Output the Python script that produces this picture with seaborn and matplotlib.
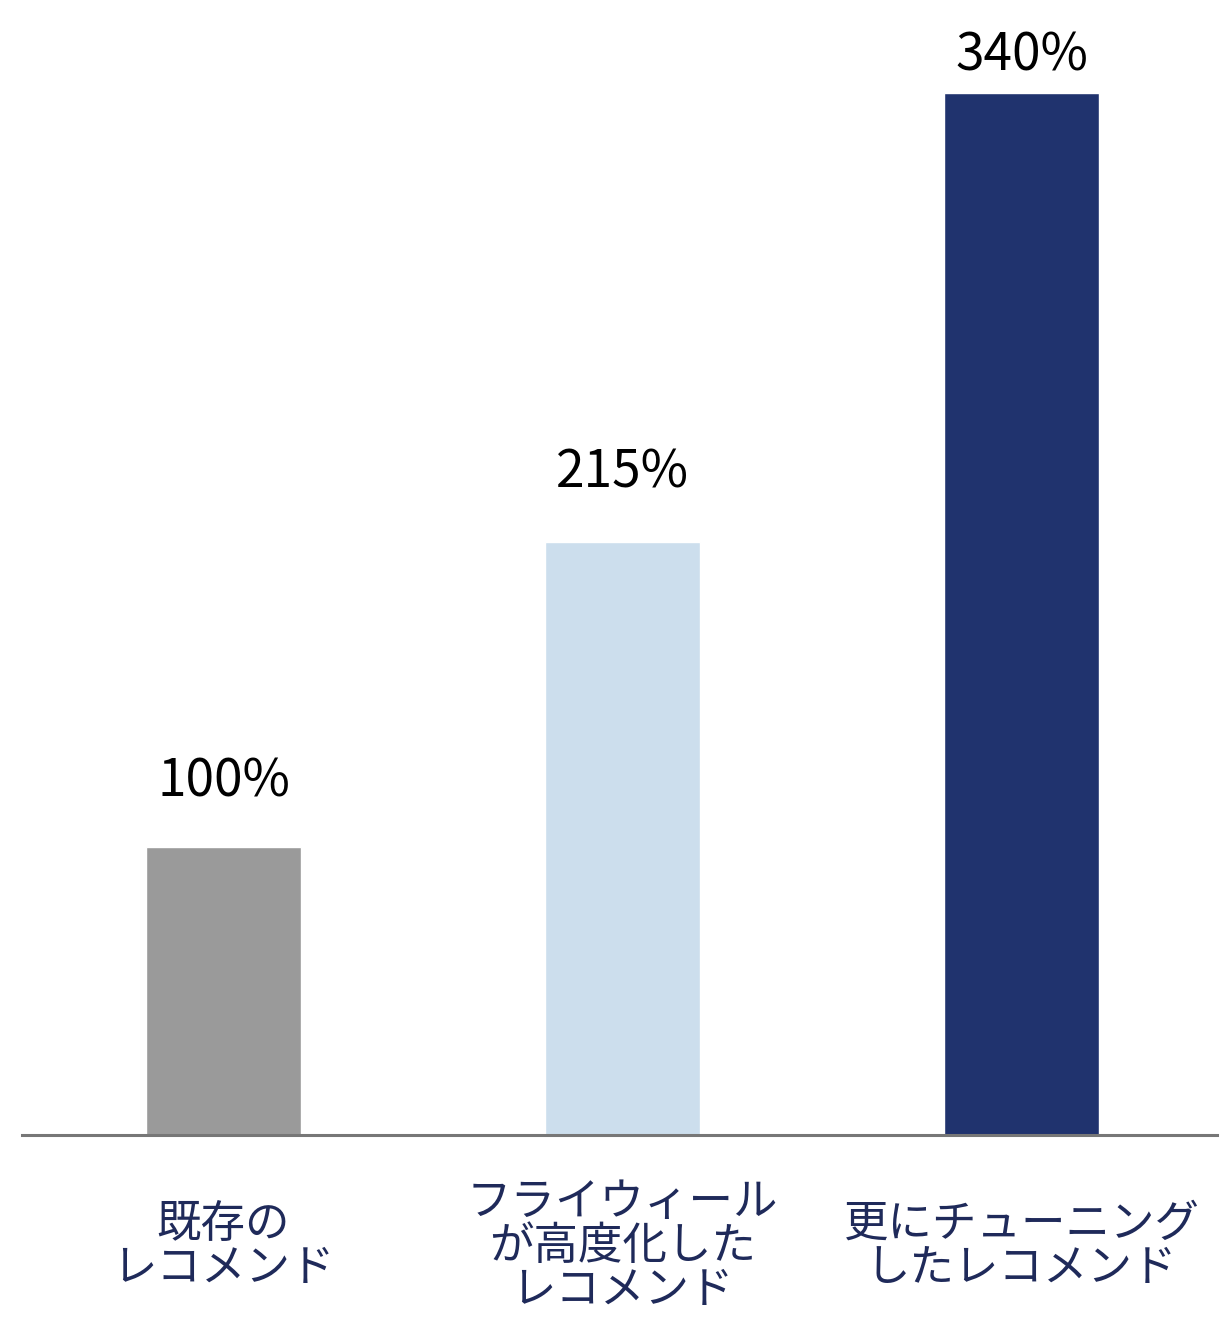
import matplotlib
matplotlib.use("Agg")
import matplotlib.pyplot as plt
import seaborn as sns
import pandas as pd

# データ
categories = ["既存の\nレコメンド", "フライウィール\nが高度化した\nレコメンド", "更にチューニング\nしたレコメンド"]
values = [100, 215, 340]            # ラベルの値 (%)
bar_heights = [94, 193.5, 340]      # 図で描かれている棒の高さ
value_labels = ["100%", "215%", "340%"]
label_pad = [36, 39, 16]            # 棒の上端からラベルのベースラインまで (pt)
colors = ["#9a9a9a", "#ccdeed", "#20336e"]

sns.set_theme(style="white")
plt.rcParams["font.family"] = ["Noto Sans CJK JP", "DejaVu Sans"]

df = pd.DataFrame({"category": categories, "height": bar_heights})

fig = plt.figure(figsize=(12.3, 13.22), dpi=100)
ax = fig.add_axes([22 / 1230, 1 - 1135 / 1322, (1217 - 22) / 1230, 1135 / 1322])

sns.barplot(data=df, x="category", y="height", hue="category", palette=colors,
            width=0.39, saturation=1, legend=False, ax=ax)

ax.set_xlim(-0.505, 2.49)
ax.set_ylim(0, 370.3)

for i, (bar, lab) in enumerate(zip(ax.patches, value_labels)):
    ax.annotate(lab, (bar.get_x() + bar.get_width() / 2, bar.get_height()),
                xytext=(0, label_pad[i]), textcoords="offset points",
                ha="center", va="baseline", fontsize=37, color="black")

ax.set_xlabel("")
ax.set_ylabel("")
ax.set_yticks([])
ax.set_xticks(range(len(categories)))
ax.set_xticklabels(categories, fontsize=32, color="#1f2a5a",
                   va="center", linespacing=0.95)
ax.tick_params(axis="x", length=0, pad=80)

sns.despine(ax=ax, left=True)
ax.spines["bottom"].set_color("#777777")
ax.spines["bottom"].set_linewidth(2.2)

fig.savefig("out.png", dpi=100)
